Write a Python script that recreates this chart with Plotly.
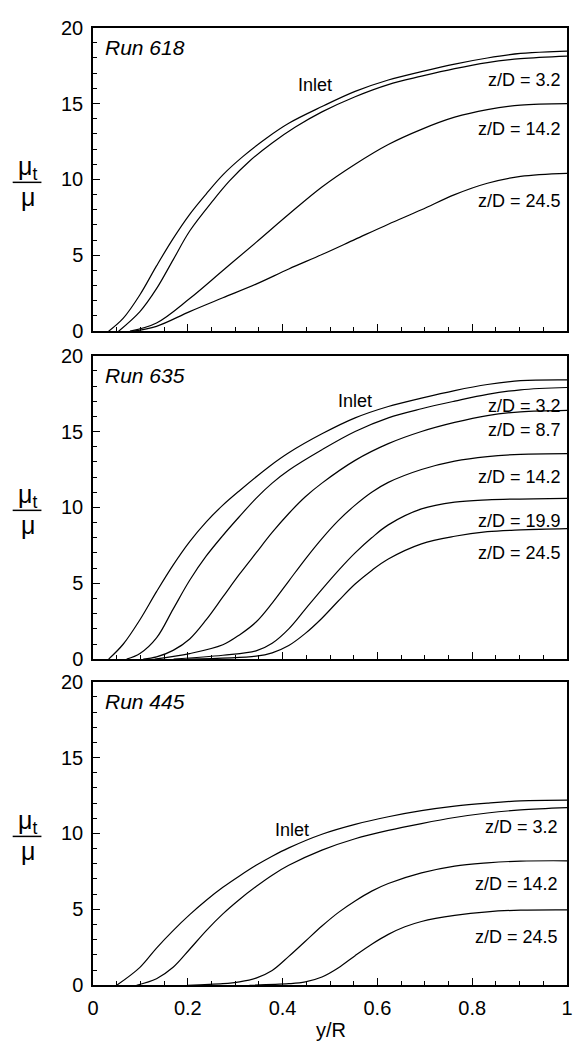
import plotly.graph_objects as go

# ---------------- data ----------------
# Run 618
r618_inlet_x = [0.033, 0.064, 0.099, 0.134, 0.169, 0.204, 0.239, 0.274, 0.316, 0.365, 0.413, 0.483, 0.553, 0.623, 0.693, 0.763, 0.832, 0.902, 0.972, 1.0]
r618_inlet_y = [0.0, 0.86, 2.4, 4.3, 6.1, 7.7, 9.05, 10.3, 11.5, 12.7, 13.7, 14.8, 15.8, 16.55, 17.1, 17.6, 18.0, 18.3, 18.42, 18.45]
r618_z32_x = [0.054, 0.099, 0.134, 0.169, 0.204, 0.253, 0.288, 0.330, 0.378, 0.427, 0.483, 0.553, 0.623, 0.693, 0.763, 0.832, 0.902, 1.0]
r618_z32_y = [0.0, 1.29, 2.8, 4.7, 6.6, 8.6, 9.9, 11.2, 12.4, 13.45, 14.45, 15.45, 16.25, 16.8, 17.3, 17.7, 17.96, 18.13]
r618_z142_x = [0.078, 0.134, 0.204, 0.274, 0.344, 0.413, 0.483, 0.553, 0.623, 0.693, 0.763, 0.832, 0.902, 1.0]
r618_z142_y = [0.0, 0.54, 2.15, 4.0, 5.85, 7.7, 9.5, 11.0, 12.3, 13.3, 14.1, 14.6, 14.9, 15.0]
r618_z245_x = [0.085, 0.134, 0.204, 0.274, 0.344, 0.413, 0.483, 0.553, 0.623, 0.693, 0.763, 0.832, 0.902, 1.0]
r618_z245_y = [0.0, 0.32, 1.29, 2.2, 3.1, 4.1, 5.05, 6.05, 7.05, 8.0, 9.0, 9.75, 10.2, 10.4]

# Run 635
r635_inlet_x = [0.033, 0.064, 0.099, 0.134, 0.169, 0.204, 0.239, 0.274, 0.309, 0.372, 0.413, 0.483, 0.553, 0.623, 0.693, 0.763, 0.832, 0.902, 1.0]
r635_inlet_y = [0.0, 1.0, 2.6, 4.45, 6.2, 7.75, 9.05, 10.15, 11.1, 12.7, 13.6, 14.85, 15.9, 16.65, 17.2, 17.7, 18.1, 18.35, 18.4]
r635_z32_x = [0.071, 0.099, 0.134, 0.169, 0.204, 0.239, 0.274, 0.309, 0.344, 0.378, 0.413, 0.483, 0.553, 0.623, 0.693, 0.763, 0.832, 0.902, 1.0]
r635_z32_y = [0.0, 0.37, 1.4, 3.3, 5.2, 6.8, 8.15, 9.4, 10.6, 11.6, 12.45, 13.8, 15.0, 15.9, 16.5, 17.0, 17.45, 17.75, 17.9]
r635_z87_x = [0.106, 0.134, 0.169, 0.204, 0.239, 0.274, 0.309, 0.344, 0.378, 0.413, 0.448, 0.483, 0.553, 0.623, 0.693, 0.763, 0.832, 0.902, 1.0]
r635_z87_y = [0.0, 0.15, 0.58, 1.33, 2.6, 4.1, 5.6, 7.0, 8.35, 9.6, 10.7, 11.6, 13.1, 14.2, 15.0, 15.6, 16.05, 16.3, 16.4]
r635_z142_x = [0.13, 0.204, 0.274, 0.309, 0.344, 0.378, 0.413, 0.448, 0.483, 0.518, 0.553, 0.588, 0.623, 0.693, 0.763, 0.832, 0.902, 1.0]
r635_z142_y = [0.0, 0.37, 0.95, 1.6, 2.45, 3.7, 5.15, 6.6, 7.95, 9.15, 10.15, 11.0, 11.65, 12.5, 13.05, 13.35, 13.5, 13.55]
r635_z199_x = [0.17, 0.274, 0.344, 0.378, 0.413, 0.448, 0.483, 0.518, 0.553, 0.588, 0.623, 0.693, 0.763, 0.832, 1.0]
r635_z199_y = [0.0, 0.26, 0.55, 1.05, 2.0, 3.3, 4.6, 5.85, 7.0, 8.0, 8.85, 9.9, 10.35, 10.5, 10.6]
r635_z245_x = [0.2, 0.344, 0.378, 0.413, 0.448, 0.483, 0.518, 0.553, 0.588, 0.623, 0.693, 0.763, 0.832, 0.902, 1.0]
r635_z245_y = [0.0, 0.2, 0.42, 0.9, 1.7, 2.7, 3.85, 4.95, 5.85, 6.6, 7.6, 8.1, 8.4, 8.52, 8.6]

# Run 445
r445_inlet_x = [0.05, 0.099, 0.134, 0.169, 0.204, 0.239, 0.274, 0.309, 0.344, 0.378, 0.413, 0.483, 0.553, 0.623, 0.693, 0.763, 0.832, 0.902, 1.0]
r445_inlet_y = [0.0, 1.18, 2.45, 3.6, 4.65, 5.6, 6.45, 7.2, 7.9, 8.5, 9.05, 9.95, 10.6, 11.1, 11.5, 11.8, 12.0, 12.15, 12.2]
r445_z32_x = [0.092, 0.134, 0.169, 0.204, 0.239, 0.274, 0.309, 0.344, 0.378, 0.413, 0.483, 0.553, 0.623, 0.693, 0.763, 0.832, 0.902, 1.0]
r445_z32_y = [0.0, 0.43, 1.18, 2.37, 3.6, 4.7, 5.65, 6.5, 7.25, 7.9, 8.9, 9.65, 10.2, 10.65, 11.05, 11.35, 11.55, 11.7]
r445_z142_x = [0.2, 0.274, 0.309, 0.344, 0.378, 0.413, 0.448, 0.483, 0.518, 0.553, 0.588, 0.623, 0.693, 0.763, 0.832, 0.902, 1.0]
r445_z142_y = [0.0, 0.1, 0.22, 0.47, 0.97, 1.9, 2.9, 3.9, 4.8, 5.55, 6.2, 6.7, 7.4, 7.85, 8.06, 8.18, 8.2]
r445_z245_x = [0.33, 0.413, 0.448, 0.483, 0.518, 0.553, 0.588, 0.623, 0.658, 0.693, 0.763, 0.832, 0.902, 1.0]
r445_z245_y = [0.0, 0.1, 0.22, 0.54, 1.15, 1.95, 2.7, 3.35, 3.85, 4.2, 4.6, 4.84, 4.95, 4.97]

run_names = ["Run 618", "Run 635", "Run 445"]
curve_labels = [
    [("Inlet", 0.469, 16.2), ("z/D = 3.2", 0.992, 16.56), ("z/D = 14.2", 0.992, 13.3), ("z/D = 24.5", 0.992, 8.6)],
    [("Inlet", 0.553, 17.0), ("z/D = 3.2", 0.992, 16.7), ("z/D = 8.7", 0.992, 15.1), ("z/D = 14.2", 0.992, 12.0),
     ("z/D = 19.9", 0.992, 9.1), ("z/D = 24.5", 0.992, 7.0)],
    [("Inlet", 0.42, 10.2), ("z/D = 3.2", 0.985, 10.4), ("z/D = 14.2", 0.985, 6.7), ("z/D = 24.5", 0.985, 3.2)],
]
x_ticks = [0, 0.2, 0.4, 0.6, 0.8, 1]
x_ticklabels = ["0", "0.2", "0.4", "0.6", "0.8", "1"]
y_ticks = [0, 5, 10, 15, 20]

panels = [
    [(r618_inlet_x, r618_inlet_y), (r618_z32_x, r618_z32_y), (r618_z142_x, r618_z142_y), (r618_z245_x, r618_z245_y)],
    [(r635_inlet_x, r635_inlet_y), (r635_z32_x, r635_z32_y), (r635_z87_x, r635_z87_y), (r635_z142_x, r635_z142_y),
     (r635_z199_x, r635_z199_y), (r635_z245_x, r635_z245_y)],
    [(r445_inlet_x, r445_inlet_y), (r445_z32_x, r445_z32_y), (r445_z142_x, r445_z142_y), (r445_z245_x, r445_z245_y)],
]

# ---------------- layout ----------------
W, H = 573, 1054
ML, MR = 93, 2
PW = W - ML - MR
FONT = "Liberation Sans, Arial, Helvetica, sans-serif"
panel_px = [(17, 327), (352, 662), (685, 995)]  # top, bottom in pixels


def py(p):
    return 1 - p / H


def px(p):
    return (p - ML) / PW


fig = go.Figure()
layout = dict(
    width=W, height=H,
    margin=dict(l=ML, r=MR, t=0, b=0),
    paper_bgcolor="white", plot_bgcolor="white",
    showlegend=False,
    font=dict(family=FONT, size=20, color="black"),
)

annotations = []
shapes = []
for i, curves in enumerate(panels):
    xa = "x" if i == 0 else f"x{i+1}"
    ya = "y" if i == 0 else f"y{i+1}"
    for cx, cy in curves:
        fig.add_trace(go.Scatter(x=cx, y=cy, mode="lines",
                                 line=dict(color="black", width=1.2, shape="spline", smoothing=1.0),
                                 xaxis=xa, yaxis=ya, hoverinfo="skip", cliponaxis=True))
    top, bot = panel_px[i]
    xkey = "xaxis" if i == 0 else f"xaxis{i+1}"
    ykey = "yaxis" if i == 0 else f"yaxis{i+1}"
    layout[xkey] = dict(
        domain=[0, 1], range=[0, 1], anchor=ya,
        tickvals=x_ticks, ticktext=x_ticklabels, showticklabels=(i == 2),
        ticks="inside", ticklen=7, tickwidth=1, tickcolor="black",
        minor=dict(dtick=0.05, ticks="inside", ticklen=4, tickcolor="black"),
        showline=True, linecolor="black", linewidth=1.5, mirror=True,
        showgrid=False, zeroline=False, ticklabeloverflow="allow",
        ticklabelstandoff=4,
        tickfont=dict(size=20, family=FONT),
    )
    if i > 0:
        layout[xkey]["matches"] = "x"
    layout[ykey] = dict(
        domain=[py(bot), py(top)], range=[0, 20], anchor=xa,
        tickvals=y_ticks, ticks="inside", ticklen=7, tickwidth=1, tickcolor="black",
        minor=dict(dtick=1, ticks="inside", ticklen=4, tickcolor="black"),
        showline=True, linecolor="black", linewidth=1.5, mirror=True,
        showgrid=False, zeroline=False, ticklabelstandoff=4,
        tickfont=dict(size=20, family=FONT),
    )
    # Run label
    annotations.append(dict(x=0.022, y=18.7, xref=xa, yref=ya, text=f"<i>{run_names[i]}</i>",
                            showarrow=False, xanchor="left", yanchor="middle",
                            font=dict(size=21, family=FONT)))
    # curve labels
    for txt, lx, ly in curve_labels[i]:
        annotations.append(dict(x=lx, y=ly, xref=xa, yref=ya, text=txt, showarrow=False,
                                xanchor="center" if txt == "Inlet" else "right", yanchor="middle",
                                font=dict(size=18, family=FONT)))
    # y-axis fraction label mu_t / mu
    mid = (top + bot) / 2 + 3
    annotations.append(dict(x=px(27), y=py(mid - 15), xref="paper", yref="paper", text="μ<sub>t</sub>",
                            showarrow=False, xanchor="center", yanchor="middle", font=dict(size=25, family=FONT)))
    annotations.append(dict(x=px(27), y=py(mid + 15), xref="paper", yref="paper", text="μ",
                            showarrow=False, xanchor="center", yanchor="middle", font=dict(size=25, family=FONT)))
    shapes.append(dict(type="line", xref="paper", yref="paper", x0=px(12), x1=px(41),
                       y0=py(mid), y1=py(mid), line=dict(color="black", width=1.5)))

# x-axis title
annotations.append(dict(x=px(333), y=py(1041), xref="paper", yref="paper", text="y/R", showarrow=False,
                        xanchor="center", yanchor="middle", font=dict(size=20, family=FONT)))

layout["annotations"] = annotations
layout["shapes"] = shapes
fig.update_layout(**layout)
fig.write_html("out.html")
